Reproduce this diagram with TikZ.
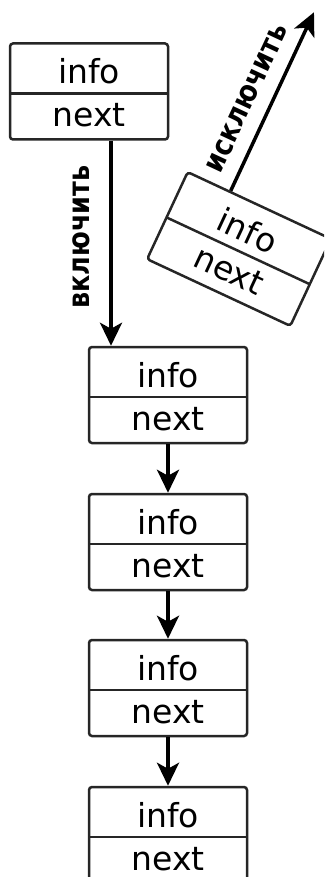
\documentclass[tikz,border=0pt]{standalone}
\usepackage{fontspec}
\usepackage{graphicx}
\setmainfont{DejaVu Sans}
\usetikzlibrary{arrows.meta,calc}
\newcommand\narrowtext[1]{\scalebox{0.85}[1]{#1}}
\tikzset{
  boxline/.style={line width=2.5pt, draw=black!85},
  cell/.style={font=\fontsize{33}{36}\selectfont, inner sep=0pt, anchor=base},
  listbox/.pic={
    \node[boxline, rounded corners=3pt, minimum width=158pt, minimum height=96pt, inner sep=0pt, transform shape] (-box) at (0,0) {};
    \draw[boxline] (-79,-2) -- (79,-2);
    \node[cell, transform shape] (-info) at (0,8) {info};
    \node[cell, transform shape] (-next) at (0,-35) {next};
  },
  link/.style={line width=3.5pt, -{Stealth[length=23pt,width=22pt,inset=6pt]}},
  lbl/.style={font=\bfseries\fontsize{30}{32}\selectfont}
}
\begin{document}
\begin{tikzpicture}[x=1pt,y=1pt]
\useasboundingbox (0,0) rectangle (324,-877);
\clip (0,0) rectangle (324,-877);
\pic (b0) at (89,-91.5) {listbox};
\pic[rotate=-25] (r) at (239,-249) {listbox};
\pic (b1) at (168,-395) {listbox};
\pic (b2) at (168,-542) {listbox};
\pic (b3) at (168,-688) {listbox};
\pic (b4) at (168,-835) {listbox};
\draw[link] ([xshift=22pt]b0-box.south) -- ([xshift=22pt]b0-box.south |- b1-box.north)
  node[pos=0.47, rotate=90, anchor=south, lbl, inner sep=19pt] (inc) {\narrowtext{включить}};
\draw[link] (b1-box.south) -- (b2-box.north);
\draw[link] (b2-box.south) -- (b3-box.north);
\draw[link] (b3-box.south) -- (b4-box.north);
\coordinate (rs) at ($(r-box.north west)!0.3!(r-box.north east)$);
\coordinate (re) at ($(rs)+(65:197)$);
\draw[link] (rs) -- (re) node[pos=0.46, sloped, anchor=south, lbl, inner sep=14pt] (exc) {\narrowtext{исключить}};
\end{tikzpicture}
\end{document}
